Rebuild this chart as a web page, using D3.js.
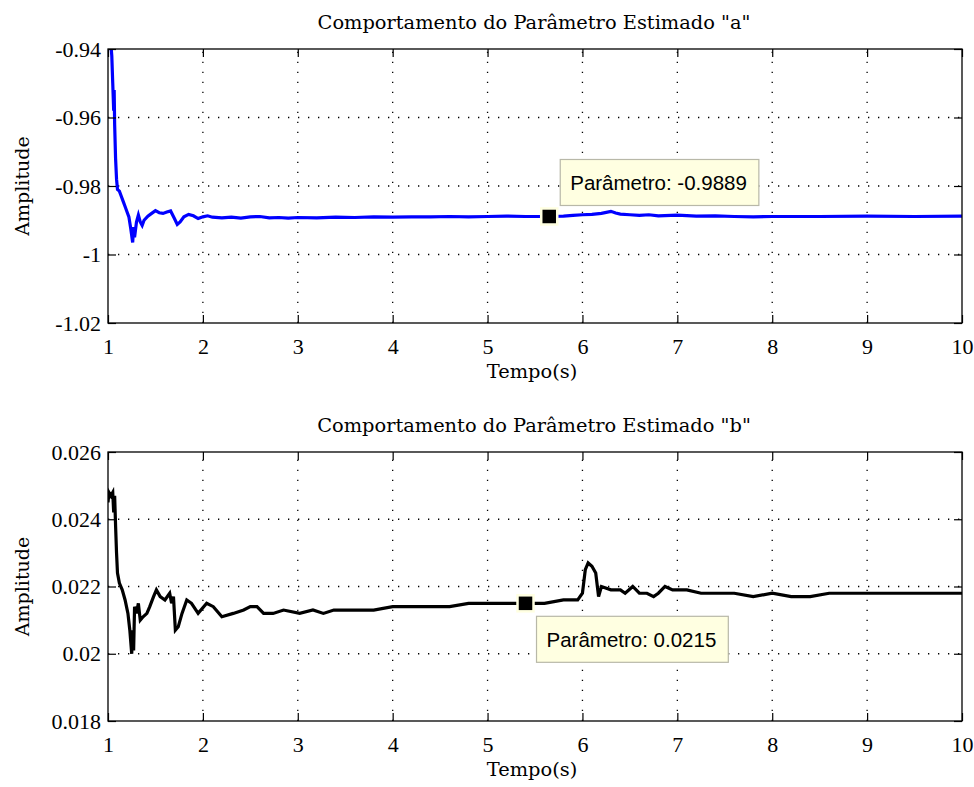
<!DOCTYPE html>
<html>
<head>
<meta charset="utf-8">
<script src="https://cdn.jsdelivr.net/npm/d3@7"></script>
<style>
  html, body { margin: 0; padding: 0; background: #fff; }
</style>
</head>
<body>
<svg id="chart" width="974" height="787"></svg>
<script>
// ---------------- DATA ----------------
const titles = ['Comportamento do Parâmetro Estimado "a"', 'Comportamento do Parâmetro Estimado "b"'];
const xLabel = "Tempo(s)";
const yLabel = "Amplitude";
const xTicks = [1, 2, 3, 4, 5, 6, 7, 8, 9, 10];
const yTicksA = [-0.94, -0.96, -0.98, -1, -1.02];
const yTicksB = [0.026, 0.024, 0.022, 0.02, 0.018];
const yTickLabelsA = ["-0.94", "-0.96", "-0.98", "-1", "-1.02"];
const yTickLabelsB = ["0.026", "0.024", "0.022", "0.02", "0.018"];

const timeA = [1.02,1.04,1.05,1.06,1.065,1.07,1.08,1.09,1.10,1.12,1.14,1.16,1.18,1.20,1.22,1.24,1.26,1.27,1.28,1.30,1.32,1.34,1.36,1.38,1.42,1.46,1.50,1.54,1.58,1.62,1.66,1.70,1.73,1.76,1.80,1.85,1.90,1.95,2.00,2.05,2.10,2.20,2.30,2.40,2.50,2.60,2.70,2.80,2.90,3.00,3.20,3.40,3.60,3.80,4.00,4.20,4.40,4.60,4.80,5.00,5.20,5.40,5.60,5.80,5.90,6.00,6.10,6.20,6.30,6.35,6.40,6.50,6.60,6.70,6.80,7.00,7.20,7.40,7.60,7.80,8.00,8.50,9.00,9.50,10.0];
const paramA = [-0.935,-0.942,-0.950,-0.958,-0.952,-0.962,-0.972,-0.978,-0.981,-0.9815,-0.983,-0.9845,-0.986,-0.9875,-0.989,-0.9925,-0.9965,-0.992,-0.995,-0.9905,-0.9885,-0.9905,-0.9915,-0.990,-0.9888,-0.9880,-0.9872,-0.9878,-0.9880,-0.9876,-0.9873,-0.9895,-0.9912,-0.9905,-0.9890,-0.9883,-0.9887,-0.9895,-0.9890,-0.9887,-0.9891,-0.9893,-0.9891,-0.9894,-0.9890,-0.9889,-0.9893,-0.9892,-0.9894,-0.9892,-0.9893,-0.9891,-0.9892,-0.9890,-0.9891,-0.9890,-0.9890,-0.9889,-0.9890,-0.9889,-0.9888,-0.9889,-0.9889,-0.9888,-0.9886,-0.9884,-0.9883,-0.9880,-0.9874,-0.9879,-0.9882,-0.9884,-0.9886,-0.9884,-0.9887,-0.9885,-0.9888,-0.9887,-0.9889,-0.9890,-0.9889,-0.9889,-0.9888,-0.9889,-0.9888];

const timeB = [1.00,1.01,1.03,1.05,1.06,1.07,1.08,1.09,1.10,1.12,1.15,1.18,1.21,1.23,1.25,1.26,1.27,1.28,1.30,1.32,1.34,1.37,1.41,1.44,1.48,1.51,1.55,1.60,1.65,1.67,1.69,1.71,1.74,1.78,1.83,1.88,1.95,2.04,2.11,2.20,2.32,2.43,2.50,2.57,2.64,2.74,2.85,3.02,3.16,3.27,3.38,3.50,3.66,3.80,4.00,4.20,4.40,4.60,4.80,5.00,5.20,5.40,5.60,5.80,5.95,6.00,6.03,6.06,6.10,6.14,6.17,6.20,6.30,6.40,6.45,6.53,6.60,6.68,6.75,6.80,6.87,6.95,7.10,7.25,7.40,7.60,7.80,8.00,8.20,8.40,8.60,9.00,9.40,9.70,10.0];
const paramB = [0.0245,0.0248,0.0247,0.0248,0.0242,0.0247,0.0238,0.0230,0.0224,0.0221,0.0219,0.0216,0.0212,0.0207,0.0200,0.0207,0.0201,0.0214,0.0212,0.0215,0.0210,0.0211,0.0212,0.0214,0.0217,0.0219,0.0217,0.0216,0.0218,0.0215,0.0217,0.0207,0.0208,0.0212,0.0216,0.0215,0.0212,0.0215,0.0214,0.0211,0.0212,0.0213,0.0214,0.0214,0.0212,0.0212,0.0213,0.0212,0.0213,0.0212,0.0213,0.0213,0.0213,0.0213,0.0214,0.0214,0.0214,0.0214,0.0215,0.0215,0.0215,0.0215,0.0215,0.0216,0.0216,0.0218,0.0225,0.0227,0.0226,0.0224,0.0217,0.0220,0.0219,0.0219,0.0218,0.0220,0.0218,0.0218,0.0217,0.0218,0.0220,0.0219,0.0219,0.0218,0.0218,0.0218,0.0217,0.0218,0.0217,0.0217,0.0218,0.0218,0.0218,0.0218,0.0218];

const tipA = { t: 5.65, v: -0.9889, label: "Parâmetro: -0.9889", above: true };
const tipB = { t: 5.40, v: 0.0215, label: "Parâmetro: 0.0215", above: false };

// ---------------- LAYOUT ----------------
const svg = d3.select("#chart");
const left = 108, right = 962;
const serif = "DejaVu Serif, serif";
const tickFont = "Liberation Serif, Times New Roman, serif";

const panels = [
  { top: 49, bottom: 323, domain: [-1.02, -0.94], ticks: yTicksA, tickLabels: yTickLabelsA,
    time: timeA, vals: paramA, color: "#0000ff", title: titles[0], tip: tipA },
  { top: 452, bottom: 721, domain: [0.018, 0.026], ticks: yTicksB, tickLabels: yTickLabelsB,
    time: timeB, vals: paramB, color: "#000000", title: titles[1], tip: tipB }
];

panels.forEach((p, i) => {
  const x = d3.scaleLinear().domain([1, 10]).range([left, right]);
  const y = d3.scaleLinear().domain(p.domain).range([p.bottom, p.top]);
  const g = svg.append("g");

  // grid
  const grid = g.append("g").attr("stroke", "#000").attr("stroke-width", 1.3)
    .attr("stroke-dasharray", "1.3 8.7").attr("fill", "none");
  xTicks.slice(1, -1).forEach(t => {
    grid.append("line").attr("x1", x(t)).attr("x2", x(t)).attr("y1", p.bottom).attr("y2", p.top);
  });
  p.ticks.slice(1, -1).forEach(t => {
    grid.append("line").attr("y1", y(t)).attr("y2", y(t)).attr("x1", left).attr("x2", right);
  });

  // clip
  const cid = "clip" + i;
  svg.append("clipPath").attr("id", cid).append("rect")
    .attr("x", left).attr("y", p.top).attr("width", right - left).attr("height", p.bottom - p.top);

  const data = p.time.map((t, k) => [t, p.vals[k]]);
  g.append("path").datum(data)
    .attr("clip-path", `url(#${cid})`)
    .attr("fill", "none").attr("stroke", p.color).attr("stroke-width", 3.2)
    .attr("stroke-linejoin", "miter")
    .attr("d", d3.line().x(d => x(d[0])).y(d => y(d[1])));

  // axes
  const ax = g.append("g").attr("transform", `translate(0,${p.bottom})`)
    .call(d3.axisBottom(x).tickValues(xTicks).tickFormat(d3.format("d"))
      .tickSizeInner(-8).tickSizeOuter(0).tickPadding(15));
  const at = g.append("g").attr("transform", `translate(0,${p.top})`)
    .call(d3.axisTop(x).tickValues(xTicks).tickFormat("").tickSizeInner(-8).tickSizeOuter(0));
  const al = g.append("g").attr("transform", `translate(${left},0)`)
    .call(d3.axisLeft(y).tickValues(p.ticks).tickFormat((d, k) => p.tickLabels[k])
      .tickSizeInner(-8).tickSizeOuter(0).tickPadding(7));
  const ar = g.append("g").attr("transform", `translate(${right},0)`)
    .call(d3.axisRight(y).tickValues(p.ticks).tickFormat("").tickSizeInner(-8).tickSizeOuter(0));
  [ax, at, al, ar].forEach(a => {
    a.select(".domain").remove();
    a.selectAll(".tick line").attr("stroke", "#000").attr("stroke-width", 1.2);
    a.selectAll("text").attr("font-family", tickFont).attr("font-size", 22).attr("fill", "#000");
  });

  // frame
  g.append("rect").attr("x", left).attr("y", p.top).attr("width", right - left).attr("height", p.bottom - p.top)
    .attr("fill", "none").attr("stroke", "#000").attr("stroke-width", 1.3);

  // title
  g.append("text").attr("x", (left + right) / 2 - 1).attr("y", p.top - 20)
    .attr("text-anchor", "middle").attr("font-family", serif).attr("font-size", 19.4).text(p.title);
  // x label
  g.append("text").attr("x", (left + right) / 2 - 3).attr("y", p.bottom + 55)
    .attr("text-anchor", "middle").attr("font-family", serif).attr("font-size", 19.4).text(xLabel);
  // y label
  g.append("text").attr("transform", `translate(29,${(p.top + p.bottom) / 2}) rotate(-90)`)
    .attr("text-anchor", "middle").attr("font-family", serif).attr("font-size", 19).text(yLabel);

  // data tip
  const mx = x(p.tip.t), my = y(p.tip.v);
  const tip = g.append("g");
  const txt = tip.append("text").attr("font-family", "Liberation Sans, Arial, sans-serif")
    .attr("font-size", 20.5).attr("fill", "#000").text(p.tip.label);
  const tw = txt.node().getComputedTextLength();
  const bw = tw + 22, bh = 46;
  const bx = mx + 11;
  const by = p.tip.above ? my - 11 - bh : my + 13;
  tip.insert("rect", "text").attr("x", bx).attr("y", by).attr("width", bw).attr("height", bh)
    .attr("fill", "#ffffe1").attr("stroke", "#b8b8a8").attr("stroke-width", 1.2);
  txt.attr("x", bx + 10).attr("y", by + bh / 2 + 7.5);
  tip.append("rect").attr("x", mx - 8).attr("y", my - 8).attr("width", 16).attr("height", 16)
    .attr("fill", "#000").attr("stroke", "#ffffe1").attr("stroke-width", 2.5);
});
</script>
</body>
</html>
